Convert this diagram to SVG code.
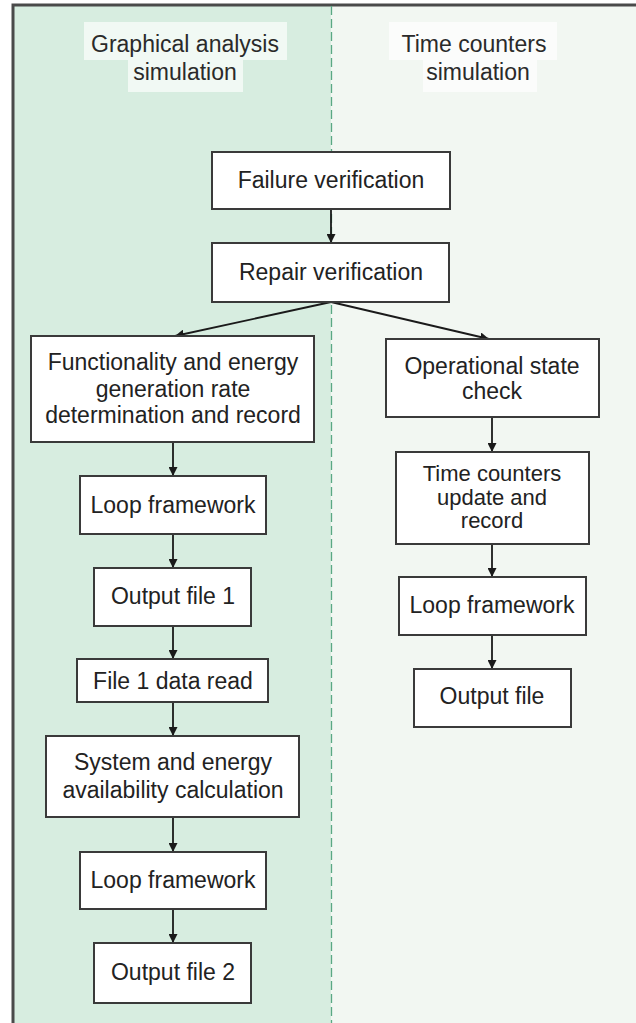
<svg xmlns="http://www.w3.org/2000/svg" width="636" height="1023" viewBox="0 0 636 1023">
  <defs>
    <marker id="arr" viewBox="0 0 10 10" refX="10" refY="5" markerWidth="9" markerHeight="9" markerUnits="userSpaceOnUse" orient="auto">
      <path d="M0,0 L10,5 L0,10 z" fill="#1a1a1a"/>
    </marker>
    <style>
      .box { fill: #ffffff; stroke: #3a3a3a; stroke-width: 2; }
      .lbl { font-family: "Liberation Sans", Arial, sans-serif; font-size: 23px; fill: #222222; text-anchor: middle; }
      .tight { font-size: 22px; }
      .hdr { font-family: "Liberation Sans", Arial, sans-serif; font-size: 23px; fill: #2a2a2a; text-anchor: middle; }
      .hl { fill: #ffffff; opacity: 0.65; }
      .edge { stroke: #1a1a1a; stroke-width: 1.8; fill: none; marker-end: url(#arr); }
    </style>
  </defs>

  <!-- lane backgrounds -->
  <rect x="0" y="0" width="636" height="1023" fill="#ffffff"/>
  <rect x="13" y="5" width="318" height="1030" fill="#d7ede0"/>
  <rect x="331" y="5" width="320" height="1030" fill="#f2f7f2"/>
  <!-- lane frame -->
  <path d="M13,1030 L13,5 L640,5" fill="none" stroke="#4a4a4a" stroke-width="3"/>
  <line x1="331.5" y1="6" x2="331.5" y2="1023" stroke="#5aa884" stroke-width="1.3" stroke-dasharray="9,4"/>

  <!-- lane titles -->
  <g id="lane-graphical">
    <rect class="hl" x="84" y="22" width="203" height="38"/>
    <rect class="hl" x="128" y="60" width="115" height="32"/>
    <text class="hdr" x="185" y="52">Graphical analysis</text>
    <text class="hdr" x="185" y="80">simulation</text>
  </g>
  <g id="lane-time">
    <rect class="hl" x="389" y="22" width="168" height="38"/>
    <rect class="hl" x="423" y="60" width="114" height="32"/>
    <text class="hdr" x="474" y="52">Time counters</text>
    <text class="hdr" x="478" y="80">simulation</text>
  </g>

  <!-- connectors -->
  <g id="connectors">
    <line class="edge" x1="331" y1="209" x2="331" y2="243"/>
    <line class="edge" x1="331" y1="302" x2="175" y2="336"/>
    <line class="edge" x1="331" y1="302" x2="489" y2="339"/>
    <line class="edge" x1="173" y1="442" x2="173" y2="476"/>
    <line class="edge" x1="173" y1="534" x2="173" y2="568"/>
    <line class="edge" x1="173" y1="626" x2="173" y2="659"/>
    <line class="edge" x1="173" y1="702" x2="173" y2="736"/>
    <line class="edge" x1="173" y1="817" x2="173" y2="852"/>
    <line class="edge" x1="173" y1="909" x2="173" y2="943"/>
    <line class="edge" x1="492" y1="417" x2="492" y2="452"/>
    <line class="edge" x1="492" y1="544" x2="492" y2="577"/>
    <line class="edge" x1="492" y1="635" x2="492" y2="669"/>
  </g>

  <!-- nodes -->
  <g id="failure-verification">
    <rect class="box" x="212" y="152" width="238" height="57"/>
    <text class="lbl" x="331" y="188">Failure verification</text>
  </g>
  <g id="repair-verification">
    <rect class="box" x="212" y="243" width="237" height="59"/>
    <text class="lbl" x="331" y="280">Repair verification</text>
  </g>
  <g id="functionality">
    <rect class="box" x="31" y="336" width="283" height="106"/>
    <text class="lbl" x="173" y="370">Functionality and energy</text>
    <text class="lbl" x="173" y="397">generation rate</text>
    <text class="lbl" x="173" y="423">determination and record</text>
  </g>
  <g id="loop-framework-1">
    <rect class="box" x="80" y="476" width="186" height="58"/>
    <text class="lbl" x="173" y="513">Loop framework</text>
  </g>
  <g id="output-file-1">
    <rect class="box" x="94" y="568" width="157" height="58"/>
    <text class="lbl" x="173" y="604">Output file 1</text>
  </g>
  <g id="file-1-data-read">
    <rect class="box" x="77" y="659" width="191" height="43"/>
    <text class="lbl" x="173" y="689">File 1 data read</text>
  </g>
  <g id="availability-calculation">
    <rect class="box" x="46" y="736" width="253" height="81"/>
    <text class="lbl" x="173" y="770">System and energy</text>
    <text class="lbl" x="173" y="798">availability calculation</text>
  </g>
  <g id="loop-framework-2">
    <rect class="box" x="80" y="852" width="186" height="57"/>
    <text class="lbl" x="173" y="888">Loop framework</text>
  </g>
  <g id="output-file-2">
    <rect class="box" x="94" y="943" width="157" height="60"/>
    <text class="lbl" x="173" y="980">Output file 2</text>
  </g>
  <g id="operational-state-check">
    <rect class="box" x="386" y="339" width="213" height="78"/>
    <text class="lbl" x="492" y="374">Operational state</text>
    <text class="lbl" x="492" y="399">check</text>
  </g>
  <g id="time-counters-update">
    <rect class="box" x="396" y="452" width="193" height="92"/>
    <text class="lbl tight" x="492" y="481">Time counters</text>
    <text class="lbl tight" x="492" y="504.5">update and</text>
    <text class="lbl tight" x="492" y="528">record</text>
  </g>
  <g id="loop-framework-3">
    <rect class="box" x="399" y="577" width="187" height="58"/>
    <text class="lbl" x="492" y="613">Loop framework</text>
  </g>
  <g id="output-file">
    <rect class="box" x="414" y="669" width="157" height="58"/>
    <text class="lbl" x="492" y="704">Output file</text>
  </g>
</svg>
